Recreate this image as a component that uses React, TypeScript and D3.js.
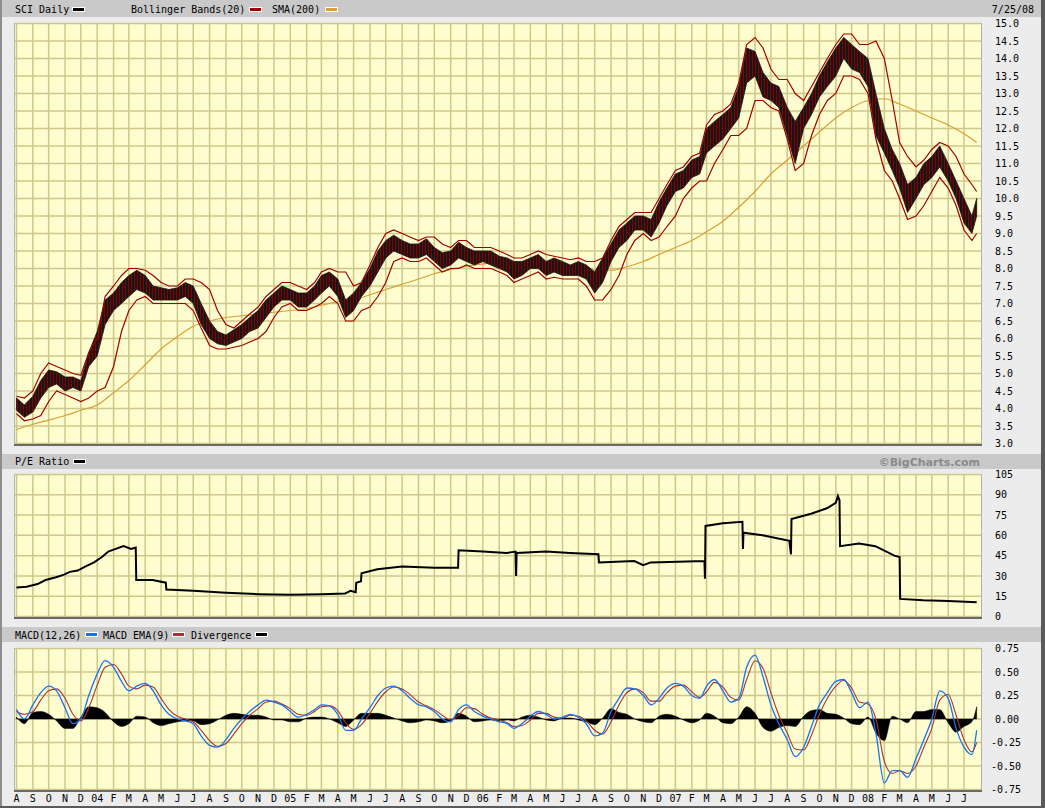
import React from 'react';
import * as d3 from 'd3';

// ---------- DATA ----------
// half-month sample dates: 1st and 16th of each month, Aug 2003 .. Jul 2008, plus last day 7/25/08
const sampleDates: Date[] = (() => {
  const out: Date[] = [];
  for (let m = 0; m < 60; m++) {
    out.push(new Date(2003, 7 + m, 1));
    out.push(new Date(2003, 7 + m, 16));
  }
  out.push(new Date(2008, 6, 25));
  return out;
})();

const priceLow = [
  3.95, 3.75, 3.9, 4.3, 4.6, 4.7, 4.5, 4.6, 4.5, 5.2,
  5.5, 6.4, 6.8, 7.0, 7.2, 7.4, 7.3, 7.1, 7.1, 7.1,
  7.1, 7.2, 7.0, 6.4, 6.0, 5.85, 5.8, 5.9, 6.0, 6.2,
  6.3, 6.6, 6.9, 7.1, 7.1, 6.9, 6.9, 7.1, 7.3, 7.5,
  7.2, 6.6, 6.8, 7.2, 7.5, 7.9, 8.3, 8.5, 8.4, 8.3,
  8.3, 8.4, 8.2, 8.0, 8.1, 8.3, 8.2, 8.1, 8.2, 8.1,
  8.0, 7.9, 7.7, 7.8, 8.0, 8.0, 7.8, 7.9, 7.8, 7.8,
  7.8, 7.7, 7.3, 7.6, 8.2, 8.6, 8.8, 9.1, 9.1, 8.9,
  9.3, 9.8, 10.2, 10.3, 10.6, 10.7, 11.3, 11.5, 11.7, 12.0,
  12.3, 13.3, 13.5, 12.9, 12.8, 12.6, 11.8, 11.0, 12.0, 12.4,
  12.9, 13.2, 13.5, 14.0, 13.7, 13.6, 13.2, 11.8, 11.3, 10.8,
  10.3, 9.6, 10.0, 10.4, 10.6, 10.9, 10.5, 10.0, 9.3, 9.0,
  9.5,
];
const priceHigh = [
  4.3, 4.1, 4.35, 4.8, 5.1, 5.05, 4.9, 4.9, 4.8, 5.6,
  6.2, 7.1, 7.3, 7.6, 7.8, 7.95, 7.8, 7.5, 7.45, 7.4,
  7.45, 7.6, 7.5, 7.0, 6.5, 6.2, 6.1, 6.25, 6.4, 6.6,
  6.8, 7.1, 7.3, 7.5, 7.4, 7.3, 7.3, 7.5, 7.8, 7.9,
  7.7, 7.1, 7.3, 7.6, 8.0, 8.5, 8.8, 8.95, 8.8, 8.7,
  8.7, 8.85, 8.6, 8.45, 8.5, 8.75, 8.6, 8.5, 8.5, 8.5,
  8.35, 8.3, 8.2, 8.2, 8.3, 8.4, 8.2, 8.3, 8.2, 8.1,
  8.2, 8.1, 7.9, 8.3, 8.7, 9.1, 9.3, 9.5, 9.5, 9.4,
  9.9, 10.3, 10.7, 10.8, 11.1, 11.2, 12.0, 12.2, 12.4, 12.6,
  13.2, 14.3, 14.2, 13.6, 13.3, 13.2, 12.6, 12.2, 12.6, 13.0,
  13.5, 13.9, 14.3, 14.6, 14.4, 14.2, 14.0, 13.0, 12.0, 11.4,
  11.0, 10.4, 10.6, 11.0, 11.2, 11.5, 11.0, 10.5, 10.0, 9.5,
  10.0,
];
const bbUpper = [
  4.35, 4.3, 4.5, 5.0, 5.3, 5.2, 5.1, 5.0, 4.95, 5.6,
  6.0, 7.2, 7.5, 7.8, 8.0, 8.0, 7.95, 7.8, 7.6, 7.5,
  7.5, 7.7, 7.7, 7.6, 7.4, 6.8, 6.4, 6.3, 6.5, 6.7,
  6.9, 7.2, 7.4, 7.6, 7.6, 7.5, 7.4, 7.6, 7.9, 8.0,
  7.9, 7.9, 7.5, 7.6, 8.1, 8.6, 9.0, 9.1, 9.0, 8.9,
  8.8, 8.9, 8.9, 8.7, 8.6, 8.8, 8.8, 8.6, 8.6, 8.6,
  8.5, 8.4, 8.3, 8.3, 8.4, 8.5, 8.4, 8.35, 8.3, 8.25,
  8.3, 8.2, 8.2, 8.3, 8.8, 9.2, 9.4, 9.6, 9.6, 9.6,
  10.0, 10.4, 10.8, 10.9, 11.2, 11.3, 12.1, 12.4, 12.5, 12.7,
  13.3, 14.4, 14.6, 14.3, 13.7, 13.4, 13.4, 13.0, 12.8, 13.2,
  13.6, 14.0, 14.4, 14.7, 14.7, 14.4, 14.4, 14.5, 14.0, 12.8,
  11.6, 11.2, 10.9, 11.1, 11.4, 11.6, 11.5, 11.2, 10.7, 10.4,
  10.2,
];
const bbLower = [
  3.85, 3.65, 3.7, 3.8, 4.2, 4.5, 4.4, 4.3, 4.2, 4.3,
  4.5, 4.6, 5.2, 6.2, 6.8, 7.1, 7.2, 7.0, 7.0, 7.0,
  7.0, 7.0, 6.8, 6.3, 5.8, 5.7, 5.7, 5.75, 5.8, 5.9,
  6.0, 6.2, 6.6, 6.9, 7.0, 6.8, 6.8, 6.9, 7.0, 7.2,
  7.0, 6.5, 6.5, 6.8, 6.9, 7.2, 7.6, 8.2, 8.3, 8.2,
  8.2, 8.3, 8.1, 7.9, 8.0, 8.0, 8.1, 8.0, 8.0, 8.0,
  7.9, 7.8, 7.6, 7.7, 7.8, 7.9, 7.7, 7.75, 7.7, 7.7,
  7.7, 7.5, 7.1, 7.1, 7.4, 7.8, 8.4, 8.8, 9.0, 8.8,
  8.9, 9.2, 9.5, 10.0, 10.3, 10.5, 10.5, 11.0, 11.4, 11.8,
  11.8, 12.0, 12.8, 12.8, 12.6, 12.5, 11.7, 10.8, 11.0, 11.8,
  12.4, 12.8, 13.0, 13.5, 13.5, 13.4, 13.0, 11.7, 10.8, 10.5,
  10.0, 9.4, 9.5, 9.8, 10.2, 10.6, 10.3, 9.8, 9.1, 8.8,
  9.0,
];

// SMA(200): first of each month Aug 2003 .. Jul 2008, plus 7/25/08
const smaDates: Date[] = (() => {
  const out: Date[] = [];
  for (let m = 0; m < 60; m++) out.push(new Date(2003, 7 + m, 1));
  out.push(new Date(2008, 6, 25));
  return out;
})();
const smaValues = [
  3.4, 3.55, 3.67, 3.8, 3.95,
  4.1, 4.45, 4.8, 5.25, 5.7, 6.05, 6.35, 6.5, 6.6, 6.65, 6.7, 6.75,
  6.8, 6.85, 6.95, 7.05, 7.1, 7.25, 7.4, 7.55, 7.7, 7.85, 7.97, 8.07,
  8.13, 8.18, 8.2, 8.15, 8.1, 8.05, 8.0, 7.95, 7.95, 8.05, 8.2, 8.4,
  8.6, 8.8, 9.05, 9.35, 9.75, 10.2, 10.7, 11.1, 11.5, 11.9, 12.3, 12.6,
  12.8, 12.85, 12.7, 12.5, 12.3, 12.1, 11.85, 11.6,
];

// P/E ratio (date, value); consecutive dates mark the earnings steps
const peDates = [
  '2003-08-01', '2003-08-20', '2003-09-10', '2003-09-25', '2003-10-15', '2003-10-30', '2003-11-10', '2003-11-25',
  '2003-12-10', '2003-12-26', '2004-01-10', '2004-01-22', '2004-02-05', '2004-02-20', '2004-03-05', '2004-03-14',
  '2004-03-15', '2004-04-15', '2004-05-10', '2004-05-11', '2004-07-01', '2004-09-01', '2004-11-01', '2005-01-01',
  '2005-03-01', '2005-04-15', '2005-04-25', '2005-05-05', '2005-05-06', '2005-05-15', '2005-05-16', '2005-06-15',
  '2005-08-01', '2005-10-01', '2005-11-15', '2005-11-16', '2006-01-01', '2006-02-15', '2006-03-04', '2006-03-05',
  '2006-03-06', '2006-05-01', '2006-06-15', '2006-08-08', '2006-08-09', '2006-10-15', '2006-11-01', '2006-11-15',
  '2007-02-25', '2007-02-26', '2007-02-27', '2007-04-01', '2007-05-08', '2007-05-09', '2007-05-10', '2007-06-15',
  '2007-08-05', '2007-08-08', '2007-08-09', '2007-09-15', '2007-10-15', '2007-11-01', '2007-11-05', '2007-11-08',
  '2007-11-09', '2007-12-15', '2008-01-15', '2008-02-20', '2008-03-01', '2008-03-02', '2008-04-15', '2008-06-01',
  '2008-07-25',
];
const peValues = [
  21.5, 22, 24, 27, 29, 31, 33, 34,
  37, 40, 44, 48, 50, 52, 50, 51,
  27, 27, 25, 20, 19, 17.5, 16.5, 16,
  16.5, 17, 19, 18, 25, 26, 32, 35,
  37, 36, 36, 49, 48, 47, 48, 30,
  47, 48, 47, 46, 40, 41, 38, 40,
  41, 28, 67, 69, 70, 50, 62, 60,
  56, 46, 72, 76, 80, 84, 89, 86,
  52, 54, 52, 45, 44, 13, 12, 11.5,
  10.5,
];

// MACD(12,26) and its EMA(9), sampled on the half-month dates
const macdValues = [
  0.10, 0.0, 0.15, 0.28, 0.35, 0.30, 0.12, -0.05, 0.0, 0.25,
  0.48, 0.62, 0.55, 0.40, 0.30, 0.35, 0.38, 0.30, 0.15, 0.05,
  0.0, -0.02, -0.05, -0.18, -0.28, -0.30, -0.22, -0.10, 0.0, 0.08,
  0.15, 0.20, 0.18, 0.15, 0.08, 0.02, 0.05, 0.10, 0.15, 0.14,
  0.05, -0.12, -0.12, 0.0, 0.12, 0.25, 0.33, 0.35, 0.30, 0.22,
  0.15, 0.13, 0.08, 0.0, -0.03, 0.10, 0.15, 0.08, 0.03, 0.0,
  -0.03, -0.05, -0.10, -0.05, 0.03, 0.08, 0.05, 0.0, 0.02, 0.05,
  0.02, -0.05, -0.18, -0.15, 0.08, 0.22, 0.33, 0.32, 0.25, 0.15,
  0.22, 0.33, 0.38, 0.35, 0.25, 0.22, 0.35, 0.42, 0.30, 0.18,
  0.22, 0.55, 0.68, 0.45, 0.15, -0.05, -0.22, -0.40, -0.30, -0.08,
  0.15, 0.28, 0.40, 0.42, 0.28, 0.12, 0.18, -0.15, -0.68, -0.55,
  -0.55, -0.62, -0.42, -0.22, 0.0, 0.30, 0.22, -0.10, -0.30, -0.38,
  -0.12,
];
const signalValues = [
  0.08, 0.05, 0.08, 0.20, 0.30, 0.32, 0.22, 0.05, -0.02, 0.12,
  0.36, 0.55, 0.58, 0.48, 0.35, 0.32, 0.36, 0.34, 0.22, 0.10,
  0.03, 0.0, -0.03, -0.12, -0.23, -0.29, -0.26, -0.16, -0.05, 0.04,
  0.11, 0.18, 0.19, 0.16, 0.11, 0.05, 0.04, 0.08, 0.13, 0.14,
  0.09, -0.04, -0.11, -0.06, 0.06, 0.19, 0.29, 0.34, 0.32, 0.26,
  0.18, 0.14, 0.10, 0.04, -0.01, 0.04, 0.12, 0.11, 0.05, 0.01,
  -0.01, -0.04, -0.08, -0.07, -0.01, 0.06, 0.06, 0.02, 0.01, 0.04,
  0.03, -0.02, -0.12, -0.16, -0.03, 0.15, 0.28, 0.32, 0.28, 0.19,
  0.19, 0.28, 0.35, 0.36, 0.29, 0.23, 0.29, 0.39, 0.34, 0.23,
  0.20, 0.42, 0.62, 0.54, 0.28, 0.04, -0.15, -0.32, -0.33, -0.17,
  0.05, 0.22, 0.35, 0.41, 0.33, 0.18, 0.16, 0.0, -0.45, -0.58,
  -0.55, -0.58, -0.50, -0.30, -0.10, 0.20, 0.26, 0.04, -0.22, -0.35,
  -0.25,
];

const priceTicks = d3.range(3, 15.001, 0.5);
const peTicks = [0, 15, 30, 45, 60, 75, 90, 105];
const macdTicks = [-0.75, -0.5, -0.25, 0, 0.25, 0.5, 0.75];
const monthLetters = ['J', 'F', 'M', 'A', 'M', 'J', 'J', 'A', 'S', 'O', 'N', 'D'];

// ---------- LAYOUT ----------
const W = 1045;
const H = 808;
const PL = 15;
const PR = 981;
const P1 = { top: 23, bottom: 444 };
const P2 = { top: 474, bottom: 617 };
const P3 = { top: 648, bottom: 790 };

const MONO = '"DejaVu Sans Mono", "Liberation Mono", monospace';
const GRID = '#cfc78a';
const PLOT_BG = '#fdfdcf';

export default function App() {
  const x = d3.scaleTime().domain([new Date(2003, 7, 1), new Date(2008, 6, 1)]).range([16.5, 964]);
  const yP = d3.scaleLinear().domain([3, 15]).range([443.5, 23.5]);
  const yE = d3.scaleLinear().domain([0, 105]).range([616.5, 474.5]);
  const yM = d3.scaleLinear().domain([-0.75, 0.75]).range([789.5, 648.5]);

  const months = d3.timeMonth.range(new Date(2003, 7, 1), new Date(2008, 7, 1));
  const idx = sampleDates.map((_, i) => i);

  const priceArea = d3.area<number>()
    .x((i) => x(sampleDates[i]))
    .y0((i) => yP(priceLow[i]))
    .y1((i) => yP(priceHigh[i]))
    .curve(d3.curveLinear)(idx) || '';
  const bbU = d3.line<number>().x((i) => x(sampleDates[i])).y((i) => yP(bbUpper[i])).curve(d3.curveLinear)(idx) || '';
  const bbL = d3.line<number>().x((i) => x(sampleDates[i])).y((i) => yP(bbLower[i])).curve(d3.curveLinear)(idx) || '';
  const sma = d3.line<number>().x((i) => x(smaDates[i])).y((i) => yP(smaValues[i])).curve(d3.curveMonotoneX)(smaDates.map((_, i) => i)) || '';

  const peParse = d3.timeParse('%Y-%m-%d');
  const pePath = d3.line<number>().x((i) => x(peParse(peDates[i]) as Date)).y((i) => yE(peValues[i]))(peDates.map((_, i) => i)) || '';

  const macdPath = d3.line<number>().x((i) => x(sampleDates[i])).y((i) => yM(macdValues[i])).curve(d3.curveMonotoneX)(idx) || '';
  const sigPath = d3.line<number>().x((i) => x(sampleDates[i])).y((i) => yM(signalValues[i])).curve(d3.curveMonotoneX)(idx) || '';
  const divPath = d3.area<number>()
    .x((i) => x(sampleDates[i]))
    .y0(() => yM(0))
    .y1((i) => yM(macdValues[i] - signalValues[i]))
    .curve(d3.curveMonotoneX)(idx) || '';

  const panelFrame = (p: { top: number; bottom: number }, yTicks: number[], ys: (v: number) => number, key: string) => (
    <g key={key}>
      <rect x={PL} y={p.top} width={PR - PL} height={p.bottom - p.top} fill={PLOT_BG} />
      {months.map((m, i) => {
        const xx = x(m);
        if (xx < PL || xx > PR) return null;
        return <line key={'v' + i} x1={xx} x2={xx} y1={p.top} y2={p.bottom} stroke={GRID} strokeWidth={1.5} />;
      })}
      {yTicks.map((t, i) => (
        <line key={'h' + i} x1={PL} x2={PR} y1={ys(t)} y2={ys(t)} stroke={GRID} strokeWidth={1.5} />
      ))}
    </g>
  );

  const panelBorder = (p: { top: number; bottom: number }, key: string) => (
    <g key={key}>
      <line x1={PL - 0.5} x2={PL - 0.5} y1={p.top} y2={p.bottom} stroke="#b8b8a8" strokeWidth={1} />
      <line x1={PR + 0.5} x2={PR + 0.5} y1={p.top} y2={p.bottom + 1} stroke="#b0b0b0" strokeWidth={1} />
      <line x1={PL - 1} x2={PR + 1} y1={p.bottom + 1} y2={p.bottom + 1} stroke="#6a6a6a" strokeWidth={2} />
    </g>
  );

  const swatch = (sx: number, sy: number, color: string, key: string) => (
    <g key={key}>
      <rect x={sx} y={sy} width={13} height={5} fill="#ffffff" />
      <rect x={sx + 1} y={sy + 1} width={11} height={3} fill={color} />
    </g>
  );

  const axisLabels = (ticks: number[], ys: (v: number) => number, fmt: (v: number) => string, key: string) => (
    <g key={key}>
      {ticks.map((t, i) => (
        <text key={i} x={t < 0 ? 991 : 995} y={ys(t) + 3.6} fontFamily={MONO} fontSize={10} fill="#000">
          {fmt(t)}
        </text>
      ))}
    </g>
  );

  return (
    <svg width={W} height={H} viewBox={`0 0 ${W} ${H}`} style={{ position: 'fixed', left: 0, top: 0, display: 'block' }}>
      <defs>
        <clipPath id="c1"><rect x={PL} y={P1.top} width={PR - PL} height={P1.bottom - P1.top} /></clipPath>
        <clipPath id="c2"><rect x={PL} y={P2.top} width={PR - PL} height={P2.bottom - P2.top} /></clipPath>
        <clipPath id="c3"><rect x={PL} y={P3.top} width={PR - PL} height={P3.bottom - P3.top} /></clipPath>
        <pattern id="bars" x={0} y={0} width={3} height={4} patternUnits="userSpaceOnUse">
          <rect x={0} y={0} width={3} height={4} fill="#151515" />
          <rect x={2} y={0} width={1} height={4} fill="#8a0000" />
        </pattern>
      </defs>
      <rect x={0} y={0} width={W} height={H} fill="#ececec" />

      {/* header bars */}
      <rect x={2} y={0} width={1039} height={17} fill="#c9c9c9" />
      <rect x={2} y={454} width={1039} height={15} fill="#c9c9c9" />
      <rect x={2} y={627} width={1039} height={15} fill="#c9c9c9" />

      {/* header 1 */}
      <text x={15} y={13} fontFamily={MONO} fontSize={10}>SCI Daily</text>
      {swatch(72, 7, '#000000', 's1')}
      <text x={131} y={13} fontFamily={MONO} fontSize={10}>Bollinger Bands(20)</text>
      {swatch(249, 7, '#a00000', 's2')}
      <text x={272} y={13} fontFamily={MONO} fontSize={10}>SMA(200)</text>
      {swatch(325, 7, '#d8a030', 's3')}
      <text x={1034} y={13} fontFamily={MONO} fontSize={10} textAnchor="end">7/25/08</text>

      {/* header 2 */}
      <text x={15} y={465} fontFamily={MONO} fontSize={10}>P/E Ratio</text>
      {swatch(73, 459, '#000000', 's4')}
      <text x={980} y={465.5} fontFamily='"DejaVu Sans", Verdana, sans-serif' fontWeight="bold" fontSize={11} fill="#8a8a8a" textAnchor="end">©BigCharts.com</text>

      {/* header 3 */}
      <text x={15} y={638.5} fontFamily={MONO} fontSize={10}>MACD(12,26)</text>
      {swatch(85, 632, '#1a72f0', 's5')}
      <text x={103} y={638.5} fontFamily={MONO} fontSize={10}>MACD EMA(9)</text>
      {swatch(172, 632, '#a83232', 's6')}
      <text x={191} y={638.5} fontFamily={MONO} fontSize={10}>Divergence</text>
      {swatch(255, 632, '#000000', 's7')}

      {/* panels */}
      {panelFrame(P1, priceTicks, yP, 'f1')}
      {panelFrame(P2, peTicks, yE, 'f2')}
      {panelFrame(P3, macdTicks, yM, 'f3')}

      <g clipPath="url(#c1)">
        <path d={sma} fill="none" stroke="#d8a030" strokeWidth={1.2} />
        <path d={priceArea} fill="url(#bars)" stroke="#151515" strokeWidth={0.8} />
        <path d={bbU} fill="none" stroke="#a00000" strokeWidth={1.2} />
        <path d={bbL} fill="none" stroke="#a00000" strokeWidth={1.2} />
      </g>
      <g clipPath="url(#c2)">
        <path d={pePath} fill="none" stroke="#000" strokeWidth={2} />
      </g>
      <g clipPath="url(#c3)">
        <path d={divPath} fill="#000" stroke="#000" strokeWidth={0.5} />
        <path d={sigPath} fill="none" stroke="#a83232" strokeWidth={1.1} />
        <path d={macdPath} fill="none" stroke="#1a72f0" strokeWidth={1.3} />
      </g>

      {panelBorder(P1, 'b1')}
      {panelBorder(P2, 'b2')}
      {panelBorder(P3, 'b3')}

      {/* right axes */}
      {axisLabels(priceTicks, yP, (v) => v.toFixed(1), 'a1')}
      {axisLabels(peTicks, yE, (v) => String(v), 'a2')}
      {axisLabels(macdTicks, yM, (v) => v.toFixed(2), 'a3')}

      {/* month labels */}
      {months.map((m, i) => {
        const xx = x(m);
        const label = m.getMonth() === 0 ? d3.timeFormat('%y')(m) : monthLetters[m.getMonth()];
        return (
          <text key={i} x={xx} y={802} fontFamily={MONO} fontSize={10} textAnchor="middle">{label}</text>
        );
      })}

      {/* outer frame */}
      <rect x={0} y={0} width={2} height={H} fill="#8c8c8c" />
      <rect x={1041} y={0} width={4} height={H} fill="#5a5a5a" />
      <rect x={0} y={806} width={W} height={2} fill="#5a5a5a" />
    </svg>
  );
}
